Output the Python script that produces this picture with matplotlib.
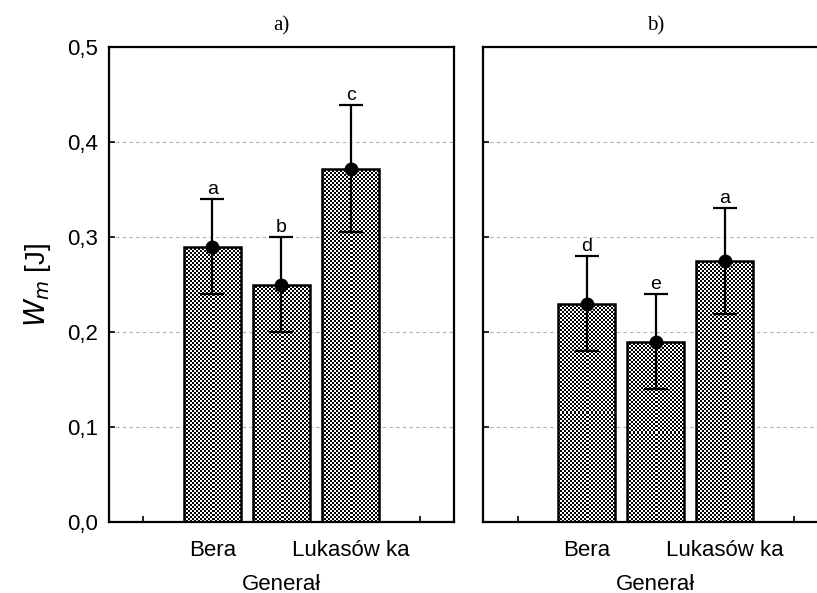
import numpy as np
import matplotlib
matplotlib.use("Agg")
import matplotlib.pyplot as plt

plt.rcParams['font.family'] = ['Liberation Sans', 'DejaVu Sans']

# data
varieties = ['Bera', 'Generał', 'Lukasów ka']
wm_a = [0.290, 0.250, 0.372]
err_a = [0.050, 0.050, 0.067]
letters_a = ['a', 'b', 'c']
wm_b = [0.230, 0.190, 0.275]
err_b = [0.050, 0.050, 0.056]
letters_b = ['d', 'e', 'a']
yticks = [0.0, 0.1, 0.2, 0.3, 0.4, 0.5]

fig = plt.figure(figsize=(8.17, 5.93), dpi=100)
ax1 = fig.add_axes([0.1334, 0.1197, 0.4223, 0.801])
ax2 = fig.add_axes([0.5912, 0.1197, 0.4223, 0.801], sharey=ax1)

pos = np.arange(1, len(varieties) + 1)


def checker_fill(ax, bars, cell=2):
    # fine checkerboard texture, clipped to each bar
    fig.canvas.draw()
    for b in bars:
        x0, y0 = b.get_x(), b.get_y()
        w, h = b.get_width(), b.get_height()
        p0 = ax.transData.transform((x0, y0))
        p1 = ax.transData.transform((x0 + w, y0 + h))
        nx = max(1, int(round(abs(p1[0] - p0[0]) / cell)))
        ny = max(1, int(round(abs(p1[1] - p0[1]) / cell)))
        board = (np.indices((ny, nx)).sum(axis=0) % 2).astype(float)
        im = ax.imshow(board, cmap='gray', vmin=0, vmax=1, extent=(x0, x0 + w, y0, y0 + h),
                       interpolation='nearest', aspect='auto', zorder=2)
        im.set_clip_path(b)


def panel(ax, vals, errs, letters, title):
    bars = ax.bar(pos, vals, width=0.82, color='none', edgecolor='black', linewidth=1.8, zorder=3)
    ax.errorbar(pos, vals, yerr=errs, fmt='o', color='black', ms=9, elinewidth=1.6,
                capsize=8.5, capthick=1.6, zorder=5)
    for x, v, e, l in zip(pos, vals, errs, letters):
        ax.text(x, v + e + 0.001, l, ha='center', va='bottom', fontsize=14, zorder=6)
    ax.set_xlim(-0.5, 4.5)
    ax.set_ylim(0, 0.5)
    ax.set_xticks(range(0, 5))
    ax.set_xticklabels(['', varieties[0], '', varieties[2], ''], fontsize=16)
    ax.set_xlabel(varieties[1], fontsize=16, labelpad=9)
    ax.set_yticks(yticks)
    ax.tick_params(direction='in', length=4, width=1.2, pad=13)
    ax.grid(axis='y', color='#b0b0b0', linestyle=(0, (3, 3)), linewidth=0.8, zorder=0)
    for s in ax.spines.values():
        s.set_linewidth(1.6)
    ax.set_title(title, fontfamily='Liberation Serif', fontsize=15, pad=12)
    return bars


bars1 = panel(ax1, wm_a, err_a, letters_a, 'a)')
bars2 = panel(ax2, wm_b, err_b, letters_b, 'b)')
checker_fill(ax1, bars1)
checker_fill(ax2, bars2)

ax1.set_yticklabels([f'{t:.1f}'.replace('.', ',') for t in yticks], fontsize=16)
ax1.tick_params(axis='y', pad=8)
ax1.set_ylabel('$W_m$ [J]', fontsize=20, labelpad=10)
ax2.tick_params(labelleft=False)

fig.savefig('out.png', dpi=100)
